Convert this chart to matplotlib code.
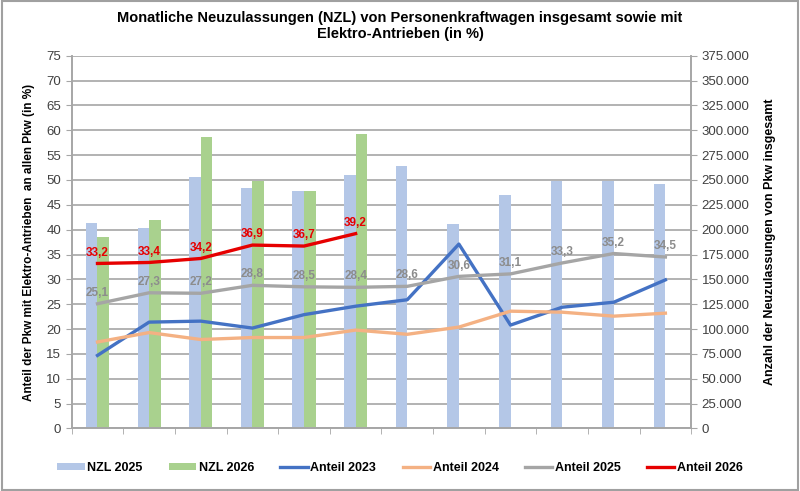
import numpy as np
import matplotlib.pyplot as plt
from matplotlib.patches import Rectangle
from matplotlib.ticker import FuncFormatter, MultipleLocator

plt.rcParams["font.family"] = ["Liberation Sans", "DejaVu Sans"]

months = ["Jan", "Feb", "Mrz", "Apr", "Mai", "Jun", "Jul", "Aug", "Sep", "Okt", "Nov", "Dez"]

# Neuzulassungen insgesamt (rechte Achse)
nzl_2025 = [206600, 202000, 253000, 242000, 238500, 255000, 264000, 206000, 235000, 249000, 249000, 246000]
nzl_2026 = [192800, 210000, 293600, 249000, 238500, 296000]

# Anteil Elektro-Antriebe in % (linke Achse)
anteil_2023 = [14.7, 21.4, 21.6, 20.2, 22.9, 24.6, 25.9, 37.1, 20.8, 24.4, 25.4, 29.9]
anteil_2024 = [17.4, 19.3, 17.9, 18.3, 18.3, 19.8, 18.95, 20.4, 23.6, 23.4, 22.6, 23.2]
anteil_2025 = [25.1, 27.3, 27.2, 28.8, 28.5, 28.4, 28.6, 30.6, 31.1, 33.3, 35.2, 34.5]
anteil_2026 = [33.2, 33.4, 34.2, 36.9, 36.7, 39.2]

c_nzl25 = "#B4C7E7"
c_nzl26 = "#A9D18E"
c_a23 = "#4472C4"
c_a24 = "#F4B183"
c_a25 = "#A5A5A5"
c_a26 = "#E60000"
grid_c = "#A6A6A6"

fig = plt.figure(figsize=(8, 4.91), dpi=100)
ax2 = fig.add_axes([0.0896, 0.1273, 0.7744, 0.7593])
ax = ax2.twinx()
ax.yaxis.tick_left()
ax.yaxis.set_label_position("left")
ax2.yaxis.tick_right()
ax2.yaxis.set_label_position("right")

x = np.arange(len(months))
w = 0.225

ax2.bar(x - w / 2, nzl_2025, width=w, color=c_nzl25, label="NZL 2025", zorder=2)
ax2.bar(x[:len(nzl_2026)] + w / 2, nzl_2026, width=w, color=c_nzl26, label="NZL 2026", zorder=2)
ax2.set_ylim(0, 375000)
ax2.yaxis.set_major_locator(MultipleLocator(25000))
ax2.yaxis.set_major_formatter(FuncFormatter(lambda v, p: f"{int(v):,}".replace(",", ".")))
ax2.grid(axis="y", color=grid_c, linewidth=1.2, zorder=0)
ax2.set_axisbelow(True)

ax.set_zorder(ax2.get_zorder() + 1)
ax.patch.set_visible(False)
lw = 2.4
ax.plot(x, anteil_2023, color=c_a23, lw=lw, label="Anteil 2023")
ax.plot(x, anteil_2024, color=c_a24, lw=lw, label="Anteil 2024")
ax.plot(x, anteil_2025, color=c_a25, lw=lw, label="Anteil 2025")
ax.plot(x[:len(anteil_2026)], anteil_2026, color=c_a26, lw=lw, label="Anteil 2026")

for xi, v in zip(x, anteil_2025):
    ax.annotate(f"{v:.1f}".replace(".", ","), (xi, v), xytext=(0, 3.5), textcoords="offset points",
                ha="center", va="bottom", fontsize=8.5, fontweight="bold", color="#8C8C8C")
for xi, v in zip(x, anteil_2026):
    ax.annotate(f"{v:.1f}".replace(".", ","), (xi, v), xytext=(0, 3.5), textcoords="offset points",
                ha="center", va="bottom", fontsize=8.5, fontweight="bold", color=c_a26)

ax.set_ylim(0, 75)
ax.yaxis.set_major_locator(MultipleLocator(5))
ax.set_xlim(-0.5, len(months) - 0.5)
ax2.set_xlim(-0.5, len(months) - 0.5)

ax2.set_xticks(x)
ax2.set_xticklabels(months)
ax2.set_xticks(np.arange(-0.5, len(months)), minor=True)
ax2.tick_params(axis="x", which="major", length=0, pad=8, labelsize=9.5)
ax2.tick_params(axis="x", which="minor", length=4, color=grid_c)
ax.set_xticks([])

for a in (ax, ax2):
    for s in a.spines.values():
        s.set_color(grid_c)
        s.set_linewidth(1.2)
    a.spines["top"].set_visible(False)
ax.tick_params(axis="y", length=4, color=grid_c, labelsize=9.5, labelcolor="#404040")
ax2.tick_params(axis="y", length=4, color=grid_c, labelsize=9.5, labelcolor="#404040")

ax.set_ylabel("Anteil der Pkw mit Elektro-Antrieben  an allen Pkw (in %)", fontsize=8.5,
              fontweight="bold", labelpad=8)
ax2.set_ylabel("Anzahl der Neuzulassungen von Pkw insgesamt", fontsize=9, fontweight="bold",
               labelpad=10)

fig.suptitle("Monatliche Neuzulassungen (NZL) von Personenkraftwagen insgesamt sowie mit\n"
             "Elektro-Antrieben (in %)", fontsize=10.5, fontweight="bold", y=0.977, x=0.5)

h1, lab1 = ax2.get_legend_handles_labels()
h2, lab2 = ax.get_legend_handles_labels()
fig.legend(h1 + h2, lab1 + lab2, loc="center", bbox_to_anchor=(0.5, 0.047), ncol=6,
           frameon=False, handlelength=2.2, handleheight=0.5, handletextpad=0.2,
           columnspacing=2.1, prop={"weight": "bold", "size": 9})

fig.patches.append(Rectangle((0.002, 0.003), 0.995, 0.994, transform=fig.transFigure,
                             fill=False, edgecolor="#A0A0A0", linewidth=1.5))

fig.savefig("out.png", dpi=100)
